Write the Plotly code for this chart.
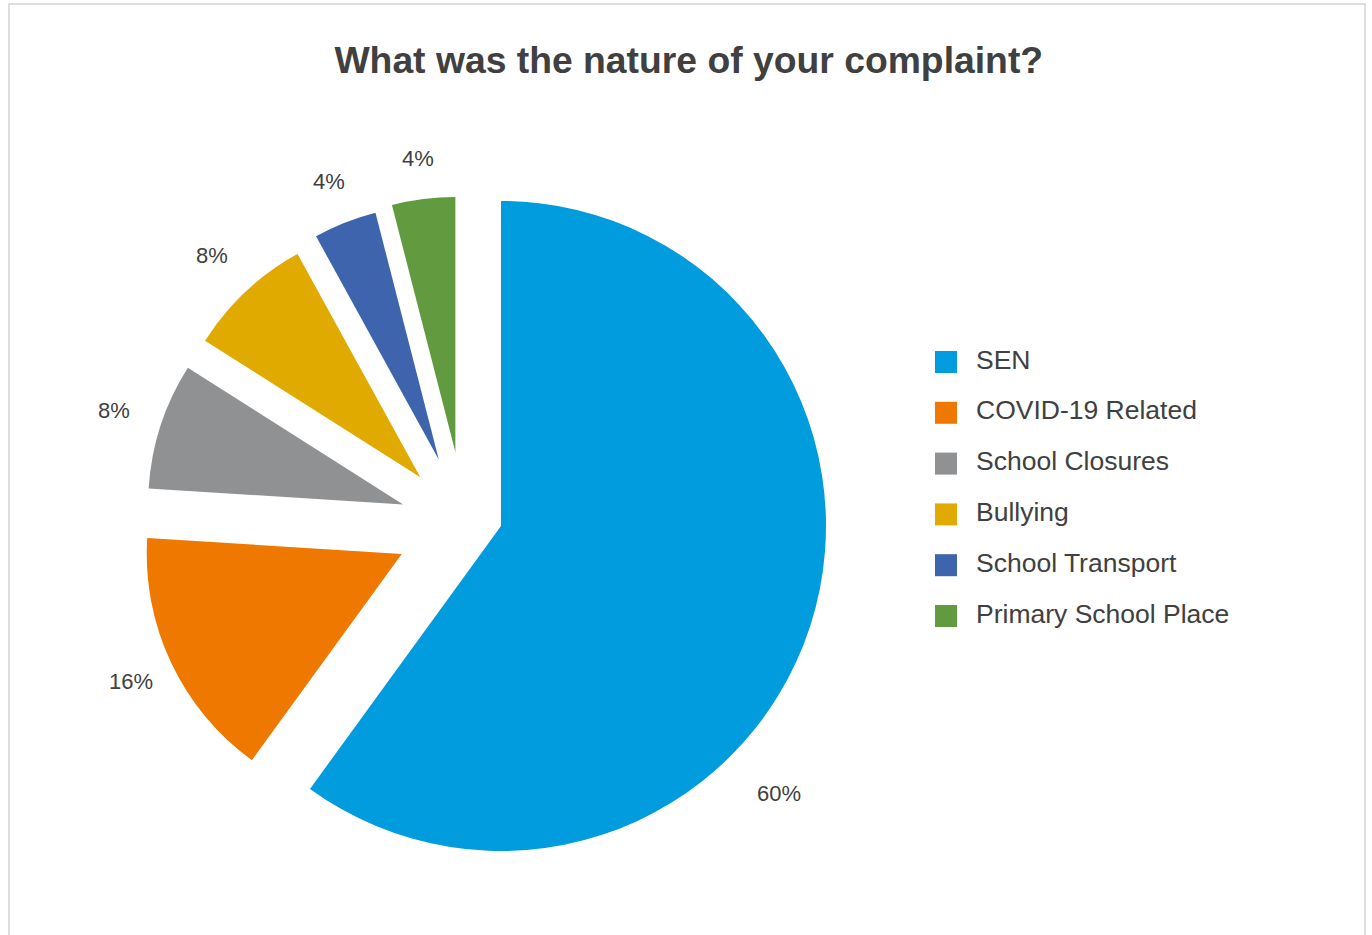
import math
import plotly.graph_objects as go

# Survey responses by complaint type
categories = ["SEN", "COVID-19 Related", "School Closures", "Bullying",
              "School Transport", "Primary School Place"]
counts = [15, 4, 2, 2, 1, 1]
colors = ["#009CDE", "#EF7800", "#909193", "#E1AA00", "#3D64AD", "#629A40"]
title_text = "What was the nature of your complaint?"

W, H = 1372, 935
FONT = "Liberation Sans, Arial, Helvetica, sans-serif"
TEXT_COLOR = "#404040"
CLEAR = "rgba(0,0,0,0)"

total = sum(counts)
pct_labels = [f"{c / total:.0%}" for c in counts]


def pie_domain(cx, cy, radius, max_pull=0.0):
    half = radius * (1 + max_pull)
    return dict(x=[(cx - half) / W, (cx + half) / W],
                y=[1 - (cy + half) / H, 1 - (cy - half) / H])


# mid-angle of each slice (degrees clockwise from 12 o'clock)
mid_angles = []
acc = 0
for c in counts:
    mid_angles.append(360 * (acc + c / 2) / total)
    acc += c

fig = go.Figure()

# Smaller exploded slices (everything except the leading category)
SMALL_CX, SMALL_CY, SMALL_R = 464.5, 524.4, 255
small_pull = [0, 0.272, 0.253, 0.253, 0.273, 0.286]
fig.add_trace(go.Pie(
    labels=categories, values=counts, sort=False, direction="clockwise",
    rotation=0, pull=small_pull,
    marker=dict(colors=[CLEAR] + colors[1:], line=dict(width=0)),
    textinfo="none",
    domain=pie_domain(SMALL_CX, SMALL_CY, SMALL_R, max(small_pull)),
    showlegend=False, hoverinfo="label+percent",
))

# Large leading slice
fig.add_trace(go.Pie(
    labels=categories, values=counts, sort=False, direction="clockwise",
    rotation=0,
    marker=dict(colors=[colors[0]] + [CLEAR] * (len(colors) - 1), line=dict(width=0)),
    textinfo="none",
    domain=pie_domain(501, 526, 325),
    showlegend=False, hoverinfo="label+percent",
))

# Legend: swatches and labels
leg_idx = list(range(len(categories)))
fig.add_trace(go.Scatter(
    x=[946] * len(categories), y=leg_idx, mode="markers",
    marker=dict(symbol="square", size=22, color=colors, line=dict(width=0)),
    hoverinfo="skip", showlegend=False,
))
fig.add_trace(go.Scatter(
    x=[976] * len(categories), y=leg_idx, mode="text", text=categories,
    textposition="middle right",
    textfont=dict(family=FONT, size=26.5, color=TEXT_COLOR),
    hoverinfo="skip", showlegend=False,
))

# Percentage labels around the slices
label_font = dict(family=FONT, size=22, color=TEXT_COLOR)
LABEL_DIST = 369
annotations = [dict(text=pct_labels[0], x=779 / W, y=1 - 793 / H,
                    xref="paper", yref="paper", showarrow=False,
                    xanchor="center", yanchor="middle", font=label_font)]
for lab, ang in zip(pct_labels[1:], mid_angles[1:]):
    a = math.radians(ang)
    px = SMALL_CX + LABEL_DIST * math.sin(a)
    py = SMALL_CY - LABEL_DIST * math.cos(a)
    annotations.append(dict(text=lab, x=px / W, y=1 - py / H,
                            xref="paper", yref="paper", showarrow=False,
                            xanchor="center", yanchor="middle", font=label_font))

leg_top, leg_step = 362, 50.8
fig.update_layout(
    width=W, height=H,
    margin=dict(l=0, r=0, t=0, b=0, pad=0, autoexpand=False),
    paper_bgcolor="white", plot_bgcolor="white",
    showlegend=False,
    title=dict(text=f"<b>{title_text}</b>", x=0.502, xanchor="center",
               y=1 - 60 / H, yanchor="middle",
               font=dict(family=FONT, size=37.3, color=TEXT_COLOR)),
    xaxis=dict(range=[0, W], visible=False, fixedrange=True),
    yaxis=dict(range=[(H - leg_top) / leg_step, -leg_top / leg_step],
               visible=False, fixedrange=True),
    annotations=annotations,
    shapes=[dict(type="rect", xref="paper", yref="paper",
                 x0=9 / W, x1=1365 / W, y0=-0.02, y1=1 - 4 / H,
                 line=dict(color="#D4D4D4", width=1.5), fillcolor=CLEAR)],
)

fig.write_html("out.html")
